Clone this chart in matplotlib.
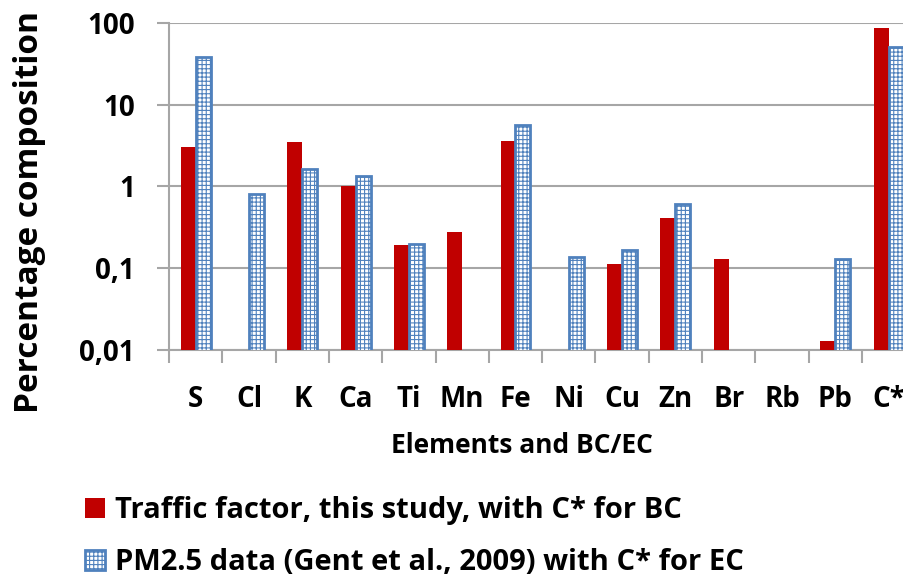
import numpy as np
import matplotlib
matplotlib.use("Agg")
import matplotlib.pyplot as plt
from matplotlib.ticker import FixedLocator, FixedFormatter, NullFormatter

# Element symbols (C* = BC for traffic factor, EC for PM2.5 data)
elements = ["S", "Cl", "K", "Ca", "Ti", "Mn", "Fe", "Ni", "Cu", "Zn", "Br", "Rb", "Pb", "C*"]

# Percentage composition, traffic factor (this study); NaN = not reported
traffic = [3.0, np.nan, 3.5, 1.0, 0.19, 0.28, 3.6, np.nan, 0.113, 0.41, 0.13, np.nan, 0.013, 87]

# Percentage composition, PM2.5 data (Gent et al., 2009)
pm25 = [38, 0.80, 1.65, 1.35, 0.195, np.nan, 5.7, 0.138, 0.167, 0.615, np.nan, np.nan, 0.129, 50]

ytick_values = [0.01, 0.1, 1, 10, 100]
ytick_labels = ["0,01", "0,1", "1", "10", "100"]

label_traffic = "Traffic factor, this study, with C* for BC"
label_pm25 = "PM2.5 data (Gent et al., 2009) with C* for EC"

RED = "#C00000"
BLUE = "#4F81BD"
GRID = "#A6A6A6"

plt.rcParams["font.family"] = ["Open Sans", "DejaVu Sans"]
plt.rcParams["font.weight"] = "bold"
plt.rcParams["hatch.linewidth"] = 0.8

fig = plt.figure(figsize=(9.04, 5.78), dpi=100)
W, H = 904, 578
left, right, top, bottom = 169, 915.3, 22.7, 350
ax = fig.add_axes([left / W, 1 - bottom / H, (right - left) / W, (bottom - top) / H])


def ax_x(px):
    return (px - left) / (right - left)


def ax_y(py):
    return (bottom - py) / (bottom - top)


x = np.arange(len(elements))
bw = 0.28
ax.bar(x - 0.14, traffic, width=bw, color=RED, edgecolor="none",
       label=label_traffic, zorder=3)
ax.bar(x + 0.14, pm25, width=bw, facecolor="white", edgecolor=BLUE,
       hatch="++++", linewidth=2.0, label=label_pm25, zorder=3)

ax.set_yscale("log")
ax.set_ylim(0.01, 100)
ax.set_xlim(-0.5, len(elements) - 0.5)

ax.yaxis.set_major_locator(FixedLocator(ytick_values))
ax.yaxis.set_major_formatter(FixedFormatter(ytick_labels))
ax.yaxis.set_minor_locator(FixedLocator([]))
ax.yaxis.set_minor_formatter(NullFormatter())
ax.grid(axis="y", color=GRID, linewidth=1.5, zorder=0)

ax.set_xticks(x)
ax.set_xticklabels(elements)
ax.set_xticks(np.arange(-0.5, len(elements)), minor=True)
ax.tick_params(axis="x", which="major", length=0, pad=25, labelsize=20)
ax.tick_params(axis="x", which="minor", length=9, width=1.5, color=GRID)
ax.tick_params(axis="y", which="major", length=8.5, width=1.5, color=GRID,
               pad=16, labelsize=20)

for s in ["top", "right"]:
    ax.spines[s].set_visible(False)
for s in ["left", "bottom"]:
    ax.spines[s].set_color(GRID)
    ax.spines[s].set_linewidth(1.5)

ax.set_xlabel("Elements and BC/EC", fontsize=19, fontweight="bold")
ax.xaxis.label.set_va("baseline")
ax.xaxis.set_label_coords(ax_x(522), ax_y(453))
ax.set_ylabel("Percentage composition", fontsize=24, fontweight="bold")
ax.yaxis.set_label_coords(ax_x(46), ax_y(212))

handles, labels = ax.get_legend_handles_labels()
fig.legend(handles, labels, loc="upper left", bbox_to_anchor=(85 / W, 1 - 496 / H),
           frameon=False, fontsize=21, handlelength=0.68, handleheight=0.68,
           handletextpad=0.35, labelspacing=0.8, borderaxespad=0, borderpad=0)

fig.savefig("out.png", dpi=100)
